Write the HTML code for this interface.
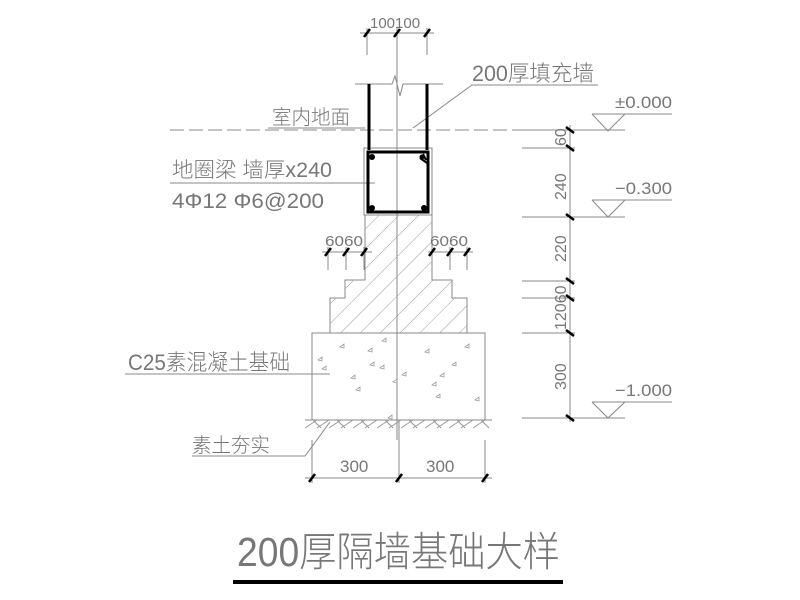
<!DOCTYPE html>
<html><head><meta charset="utf-8"><style>
html,body{margin:0;padding:0;background:#fff;}
svg{display:block}
text{font-family:"Liberation Sans","Noto Sans CJK SC",sans-serif;fill:#777;font-weight:300}
</style></head><body>
<svg width="800" height="600" viewBox="0 0 800 600" xmlns="http://www.w3.org/2000/svg">
<defs>
<pattern id="h" patternUnits="userSpaceOnUse" width="14" height="14" patternTransform="rotate(45)">
<line x1="0" y1="0" x2="0" y2="14" stroke="#999" stroke-width="1"/>
</pattern>
</defs>
<g stroke="#888" stroke-width="1" fill="none">
<line x1="360" y1="33" x2="434" y2="33"/>
<line x1="367" y1="28" x2="367" y2="55"/>
<line x1="397" y1="28" x2="397" y2="440"/>
<line x1="427" y1="28" x2="427" y2="55"/>
<polyline points="355,84 392,84 395,76 400,96 403,84 443,84"/>
<line x1="170" y1="130" x2="575" y2="130" stroke-dasharray="14,5"/>
<rect x="364" y="148" width="68" height="67"/>
<polyline points="598,85 472,85 413,128"/>
<line x1="268" y1="128" x2="365" y2="128"/>
<line x1="170" y1="183" x2="375" y2="183"/>
<line x1="125" y1="374" x2="330" y2="374"/>
<polyline points="192,456 305,456 330,422"/>
<polyline points="365,215 365,280 345,280 345,298 330,298 330,333 312,333 312,420 485,420 485,333 467,333 467,298 452,298 452,280 432,280 432,215"/>
<line x1="330" y1="333" x2="467" y2="333"/>
<line x1="322" y1="252" x2="372" y2="252"/>
<line x1="428" y1="252" x2="473" y2="252"/>
<line x1="328" y1="247" x2="328" y2="270"/>
<line x1="346" y1="247" x2="346" y2="270"/>
<line x1="364" y1="247" x2="364" y2="270"/>
<line x1="432" y1="247" x2="432" y2="270"/>
<line x1="450" y1="247" x2="450" y2="270"/>
<line x1="467" y1="247" x2="467" y2="270"/>
<line x1="305" y1="420" x2="492" y2="420"/>
<line x1="305" y1="478" x2="492" y2="478"/>
<line x1="312" y1="440" x2="312" y2="483"/>
<line x1="399" y1="420" x2="399" y2="483"/>
<line x1="485" y1="440" x2="485" y2="483"/>
<line x1="570" y1="125" x2="570" y2="422"/>
<line x1="522" y1="130" x2="625" y2="130"/>
<line x1="522" y1="148" x2="575" y2="148"/>
<line x1="522" y1="217" x2="625" y2="217"/>
<line x1="522" y1="281" x2="575" y2="281"/>
<line x1="522" y1="298" x2="575" y2="298"/>
<line x1="522" y1="333" x2="575" y2="333"/>
<line x1="522" y1="418" x2="625" y2="418"/>
<polyline points="592,114 672,114"/><polyline points="592,114 608,131 625,114"/>
<polyline points="592,200 672,200"/><polyline points="592,200 608,217 625,200"/>
<polyline points="592,402 672,402"/><polyline points="592,402 608,418 625,402"/>
</g>
<path d="M365,215 V280 H345 V298 H330 V333 H467 V298 H452 V280 H432 V215 Z" fill="url(#h)"/>
<g stroke="#999" stroke-width="1">
<path d="M305,428 l12,-8 M317,428 l12,-8 M329,428 l12,-8 M341,428 l12,-8 M353,428 l12,-8 M365,428 l12,-8 M377,428 l12,-8 M389,428 l12,-8 M401,428 l12,-8 M413,428 l12,-8 M425,428 l12,-8 M437,428 l12,-8 M449,428 l12,-8 M461,428 l12,-8 M473,428 l12,-8"/>
<path d="M313,420 l8,8 M337,420 l8,8 M361,420 l8,8 M385,420 l8,8 M409,420 l8,8 M433,420 l8,8 M457,420 l8,8 M481,420 l8,8"/>
</g>
<g stroke="#999" fill="none" stroke-width="0.8">
<path d="M340,347 l4,-3 0,4z M382,341 l4,-3 0,4z M368,351 l4,-3 0,4z M318,360 l4,-3 0,4z M370,365 l4,-3 0,4z M380,368 l4,-3 0,4z M322,369 l4,-3 0,4z M351,378 l4,-3 0,4z M356,390 l4,-3 0,4z M393,382 l4,-3 0,4z M402,375 l4,-3 0,4z M425,352 l4,-3 0,4z M465,347 l4,-3 0,4z M452,365 l4,-3 0,4z M440,376 l4,-3 0,4z M432,385 l4,-3 0,4z M436,397 l4,-3 0,4z M475,400 l4,-3 0,4z M388,418 l4,-3 0,4z"/>
</g>
<g stroke="#000" fill="none" stroke-width="3">
<line x1="369" y1="84" x2="369" y2="150"/>
<line x1="427" y1="84" x2="427" y2="150"/>
<rect x="368" y="152" width="60" height="60"/>
<line x1="420" y1="158" x2="427" y2="163" stroke-width="2"/>
<line x1="423" y1="154" x2="426" y2="160" stroke-width="2"/>
</g>
<g fill="#000">
<circle cx="372" cy="157" r="3"/><circle cx="372" cy="208" r="3"/><circle cx="424" cy="208" r="3"/><circle cx="422" cy="157" r="2.5"/>
</g>
<g stroke="#000" stroke-width="2.5">
<path d="M364,37 l6,-8 M394,37 l6,-8 M424,37 l6,-8"/>
<path d="M325,256 l6,-8 M343,256 l6,-8 M361,256 l6,-8 M429,256 l6,-8 M447,256 l6,-8 M464,256 l6,-8"/>
<path d="M309,482 l6,-8 M396,482 l6,-8 M482,482 l6,-8"/>
<path d="M566,127 l8,6 M566,145 l8,6 M566,214 l8,6 M566,278 l8,6 M566,295 l8,6 M566,330 l8,6 M566,415 l8,6"/>
</g>
<text x="370" y="28" font-size="15">100100</text>
<text x="472" y="81" font-size="22" textLength="122" lengthAdjust="spacingAndGlyphs">200厚填充墙</text>
<text x="272" y="124" font-size="20" textLength="78" lengthAdjust="spacingAndGlyphs">室内地面</text>
<text x="172" y="177" font-size="21" textLength="160" lengthAdjust="spacingAndGlyphs">地圈梁 墙厚x240</text>
<text x="172" y="208" font-size="21" textLength="152" lengthAdjust="spacingAndGlyphs">4Φ12 Φ6@200</text>
<text x="325" y="246" font-size="15" textLength="38" lengthAdjust="spacingAndGlyphs">6060</text>
<text x="430" y="246" font-size="15" textLength="38" lengthAdjust="spacingAndGlyphs">6060</text>
<text x="128" y="370" font-size="22" textLength="162" lengthAdjust="spacingAndGlyphs">C25素混凝土基础</text>
<text x="192" y="452" font-size="20" textLength="78" lengthAdjust="spacingAndGlyphs">素土夯实</text>
<text x="340" y="472" font-size="17">300</text>
<text x="426" y="472" font-size="17">300</text>
<text x="615" y="108" font-size="17" textLength="57" lengthAdjust="spacingAndGlyphs">±0.000</text>
<text x="615" y="194" font-size="17" textLength="57" lengthAdjust="spacingAndGlyphs">−0.300</text>
<text x="615" y="396" font-size="17" textLength="57" lengthAdjust="spacingAndGlyphs">−1.000</text>
<g font-size="16">
<text transform="translate(566,146) rotate(-90)">60</text>
<text transform="translate(566,200) rotate(-90)">240</text>
<text transform="translate(566,262) rotate(-90)">220</text>
<text transform="translate(566,330) rotate(-90)">12060</text>
<text transform="translate(566,390) rotate(-90)">300</text>
</g>
<text x="237" y="566" font-size="41" textLength="323" lengthAdjust="spacingAndGlyphs">200厚隔墙基础大样</text>
<rect x="233" y="580" width="330" height="4" fill="#000"/>
</svg>
</body></html>
